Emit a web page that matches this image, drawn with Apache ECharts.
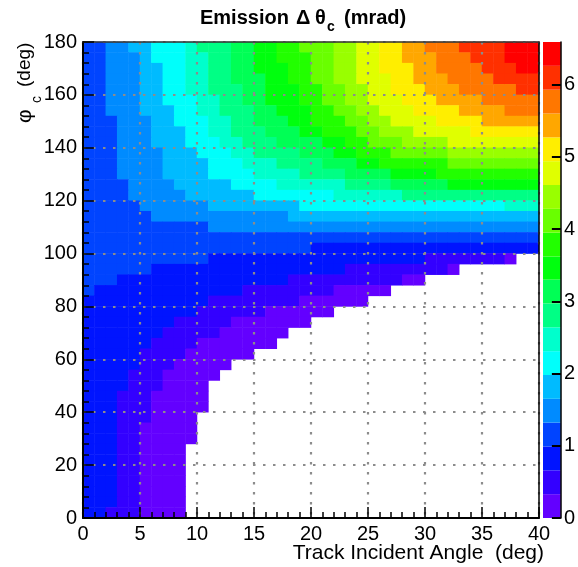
<!DOCTYPE html>
<html><head><meta charset="utf-8">
<script src="https://cdn.jsdelivr.net/npm/echarts/dist/echarts.min.js"></script>
<style>html,body{margin:0;padding:0;background:#fff}#c{width:578px;height:567px}</style>
</head><body><div id="c"></div>
<script>
// ---- data ----
const xRange = [0, 40];           // Track incident angle (deg)
const yRange = [0, 180];          // phi_c (deg)
const xTickStep = 5;
const yTickStep = 20;
const zTickValues = [0, 1, 2, 3, 4, 5, 6];
// 20 contour levels of Emission Delta theta_c (mrad)
const contourLevels = [0, 0.33, 0.66, 0.99, 1.32, 1.65, 1.98, 2.31, 2.64, 2.97, 3.30,
                       3.62, 3.95, 4.28, 4.61, 4.94, 5.27, 5.60, 5.93, 6.26, 6.59];
const paletteColors = ['#6300ff','#3300ff','#0014ff','#0044ff','#008bff','#00bbff','#00fffb','#00ffcc','#00ff85','#00ff55',
                       '#00ff0e','#22ff00','#69ff00','#99ff00','#e0ff00','#ffee00','#ffa700','#ff7700','#ff3000','#ff0000'];
// band index per cell (0-9, a-j = 10-19, '.'/missing = empty); 40 columns of 1 deg, rows of 4 deg from top (176-180) to bottom (0-4)
const levelRows = [
  "334455666788899aabbcccddeeffgghhhiiiijjj",
  "334445666778899aabbbccddeeffggghhhiiijjj",
  "334445566778899aaabbccddeefffgghhhhiiijj",
  "3344455667788999aabbccddeeeffggghhhhiiii",
  "3344455667788899aaabbccddeefffggghhhhhii",
  "3344455666778899aaabbccddeeefffgggghhhhh",
  "33444555667788899aaabbccddeeeffffgggghhh",
  "333444556667788999aabbbccddeeeeffffggggg",
  "3334445556677888999aabbbccdddeeeeeffffff",
  "333444555666778889999aabbcccddddeeeeeeee",
  "3334444555666778888999aabbbcccccdddddddd",
  "333444455556667778888999aabbbbbbcccccccc",
  "333444455556666777788889999aaaabbbbbbbbb",
  "33334444555556666777777888899999aaaaaaaa",
  "3333"+"44444"+"555555"+"6666666"+"777777"+"888888888888",
  "33333"+"444444"+"55555555"+"666666666666666666"+"777",
  "333333"+"444444444444"+"5555555555555555555555",
  "33333333333"+"44444444444444444444444444444",
  "3333333333"+"3333333333"+"3333333333"+"3333333333",
  "3333333333"+"3333333333"+"2222222222"+"2222222222",
  "33333333333"+"2222222222222222222"+"1111111"+"0",
  "333333"+"22222222222222222"+"111111111"+"0",
  "333"+"222222222222222"+"1111111111"+"00",
  "3"+"2222222222222"+"11111111"+"00000",
  "22222222222"+"11111111"+"000000",
  "2222222222"+"111111"+"000000",
  "22222222"+"11111"+"0000000",
  "2222222"+"11111"+"000000",
  "222222"+"1111"+"0000000",
  "22222"+"1111"+"000000",
  "22222"+"111"+"00000",
  "2222"+"111"+"00000",
  "2222"+"111"+"0000",
  "222"+"111"+"00000",
  "222"+"111"+"00000",
  "222"+"111"+"0000",
  "222"+"11"+"00000",
  "222"+"11"+"00000",
  "222"+"11"+"0000",
  "222"+"11"+"0000",
  "222"+"11"+"0000",
  "222"+"11"+"0000",
  "222"+"11"+"0000",
  "222"+"11"+"0000",
  "22"+"111"+"0000"
];

// ---- build ----
const nx = 40, ny = levelRows.length;
const code = '0123456789abcdefghij';
const xCats = [], yCats = [];
for (let i = 0; i < nx; i++) xCats.push(String(i));
for (let j = 0; j < ny; j++) yCats.push(String(j));
const heat = [];
levelRows.forEach((row, r) => {
  const j = ny - 1 - r;
  for (let i = 0; i < row.length; i++) {
    const k = code.indexOf(row[i]);
    if (k < 0) continue;
    heat.push([i, j, +((contourLevels[k] + contourLevels[k + 1]) / 2).toFixed(3)]);
  }
});
const pieces = paletteColors.map((c, k) => ({gte: contourLevels[k], lt: contourLevels[k + 1], color: c}));

const FONT = '"Liberation Sans", Arial, Helvetica, sans-serif';
const dotted = {color: '#8c8c8c', width: 2.2, type: [2.5, 7.5]};

const cbSeries = paletteColors.map((c, k) => ({
  type: 'bar', xAxisIndex: 3, yAxisIndex: 3, stack: 'cb', silent: true,
  barWidth: '100%', itemStyle: {color: c},
  data: [+(contourLevels[k + 1] - contourLevels[k]).toFixed(4)]
}));

const chart = echarts.init(document.getElementById('c'), null, {renderer: 'canvas'});
chart.setOption({
  animation: false,
  backgroundColor: '#fff',
  grid: [
    {left: 83, top: 42, width: 456, height: 476},
    {left: 543, top: 42, width: 25, height: 476}
  ],
  xAxis: [
    {type: 'category', gridIndex: 0, data: xCats, show: false, position: 'bottom'},
    {type: 'value', gridIndex: 0, position: 'bottom', min: xRange[0], max: xRange[1], interval: xTickStep, z: 10,
     axisLine: {show: true, onZero: false, lineStyle: {color: '#000', width: 2}},
     axisTick: {show: true, inside: true, length: 11, lineStyle: {color: '#000', width: 1.5}},
     minorTick: {show: true, splitNumber: 5, length: 6, lineStyle: {color: '#000', width: 1.5}},
     axisLabel: {color: '#000', fontSize: 20, fontFamily: FONT, margin: 6},
     splitLine: {show: true, lineStyle: dotted}},
    {type: 'value', gridIndex: 0, position: 'top', min: xRange[0], max: xRange[1], z: 10,
     axisLine: {show: true, onZero: false, lineStyle: {color: '#333', width: 1.5}},
     axisTick: {show: false}, axisLabel: {show: false}, splitLine: {show: false}},
    {type: 'category', gridIndex: 1, data: ['z'], show: false}
  ],
  yAxis: [
    {type: 'category', gridIndex: 0, data: yCats, show: false, position: 'left'},
    {type: 'value', gridIndex: 0, position: 'left', min: yRange[0], max: yRange[1], interval: yTickStep, z: 10,
     axisLine: {show: true, onZero: false, lineStyle: {color: '#000', width: 2}},
     axisTick: {show: true, inside: true, length: 11, lineStyle: {color: '#000', width: 1.5}},
     minorTick: {show: true, splitNumber: 5, length: 6, lineStyle: {color: '#000', width: 1.5}},
     axisLabel: {color: '#000', fontSize: 20, fontFamily: FONT, margin: 6},
     splitLine: {show: true, lineStyle: dotted}},
    {type: 'value', gridIndex: 0, position: 'right', min: yRange[0], max: yRange[1], z: 10,
     axisLine: {show: true, onZero: false, lineStyle: {color: '#000', width: 1.5}},
     axisTick: {show: false}, axisLabel: {show: false}, splitLine: {show: false}},
    {type: 'value', gridIndex: 1, position: 'right', min: contourLevels[0], max: contourLevels[contourLevels.length - 1], z: 10,
     axisLine: {show: true, onZero: false, lineStyle: {color: '#000', width: 1.5}},
     axisTick: {show: true, inside: true, length: 9, customValues: zTickValues, lineStyle: {color: '#000', width: 2}},
     axisLabel: {color: '#000', fontSize: 20, fontFamily: FONT, margin: 3, customValues: zTickValues},
     splitLine: {show: false}}
  ],
  visualMap: {type: 'piecewise', show: false, seriesIndex: 0, pieces: pieces},
  series: [
    {type: 'heatmap', xAxisIndex: 0, yAxisIndex: 0, data: heat, silent: true,
     itemStyle: {borderWidth: 0}, progressive: 0}
  ].concat(cbSeries),
  graphic: [
    {type: 'text', x: 200, y: 18, style: {text: 'Emission', font: 'bold 20px ' + FONT, fill: '#000', verticalAlign: 'middle'}},
    {type: 'text', x: 296, y: 18, style: {text: 'Δ', font: 'bold 20px ' + FONT, fill: '#000', verticalAlign: 'middle'}},
    {type: 'text', x: 315, y: 18, style: {text: 'θ', font: 'bold 20px ' + FONT, fill: '#000', verticalAlign: 'middle'}},
    {type: 'text', x: 327, y: 27, style: {text: 'c', font: 'bold 14px ' + FONT, fill: '#000', verticalAlign: 'middle'}},
    {type: 'text', x: 344, y: 18, style: {text: '(mrad)', font: 'bold 20px ' + FONT, fill: '#000', verticalAlign: 'middle'}},
    {type: 'text', x: 544, y: 553, style: {text: 'Track Incident Angle  (deg)', font: '21px ' + FONT, fill: '#000', align: 'right', verticalAlign: 'middle'}},
    {type: 'group', x: 25, y: 123, rotation: Math.PI / 2, children: [
      {type: 'text', x: 0, y: 0, style: {text: 'φ', font: '21px ' + FONT, fill: '#000', verticalAlign: 'middle'}},
      {type: 'text', x: 20, y: 12, style: {text: 'c', font: '14px ' + FONT, fill: '#000', verticalAlign: 'middle'}},
      {type: 'text', x: 36, y: 0, style: {text: '(deg)', font: '19px ' + FONT, fill: '#000', verticalAlign: 'middle'}}
    ]}
  ]
});
</script>
</body></html>
